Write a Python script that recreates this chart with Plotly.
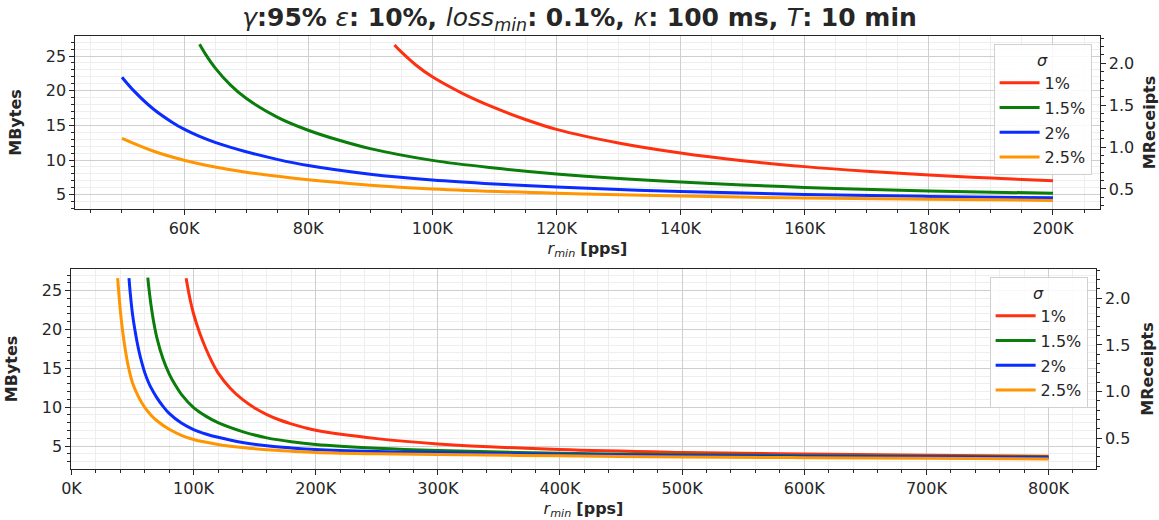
import plotly.graph_objects as go

# ---- data (x in thousands of pps, y in MBytes) ----
sigma_labels = ["1%", "1.5%", "2%", "2.5%"]
colors = ["#ff3010", "#0a7d0a", "#0a2cff", "#ff9500"]

red_x = [93.9, 95, 97.5, 100, 105, 110, 115, 120, 130, 140, 150, 160, 170, 180, 190, 200,
         250, 300, 400, 500, 600, 700, 800]
red_y = [26.6, 25.6, 23.6, 22.0, 19.55, 17.55, 15.85, 14.42, 12.45, 11.0, 9.9, 9.05, 8.38, 7.85, 7.4, 7.02,
         5.95, 5.27, 4.54, 4.18, 3.97, 3.8, 3.67]

green_x = [62.5, 63.5, 65, 67.5, 70, 75, 80, 85, 90, 100, 110, 120, 140, 160, 180, 200,
           250, 300, 400, 500, 600, 700, 800]
green_y = [26.69, 25.2, 23.3, 20.8, 18.9, 16.2, 14.3, 12.85, 11.65, 9.95, 8.85, 8.0, 6.85, 6.05, 5.55, 5.2,
           4.72, 4.42, 4.07, 3.88, 3.76, 3.66, 3.58]

blue_x = [47.1, 48, 49, 50, 52, 55, 58, 60, 62.5, 65, 70, 75, 80, 90, 100, 110, 120, 140, 160, 180, 200,
          250, 300, 400, 500, 600, 700, 800]
blue_y = [26.6, 24.9, 23.3, 21.95, 19.9, 17.4, 15.5, 14.45, 13.4, 12.55, 11.2, 10.1, 9.2, 7.95, 7.12,
          6.55, 6.12, 5.45, 5.02, 4.75, 4.55, 4.3, 4.15, 3.9, 3.76, 3.65, 3.57, 3.5]

orange_x = [37.8, 39, 40, 41, 42, 44, 47, 50, 55, 60, 65, 70, 80, 90, 100, 120, 140, 160, 180, 200,
            250, 300, 400, 500, 600, 700, 800]
orange_y = [26.6, 24.22, 22.47, 20.97, 19.67, 17.47, 14.92, 13.12, 11.3, 9.97, 9.0, 8.25, 7.15, 6.38,
            5.83, 5.2, 4.8, 4.52, 4.33, 4.18, 4.0, 3.9, 3.73, 3.6, 3.5, 3.41, 3.34]

series_x = [red_x, green_x, blue_x, orange_x]
series_y = [red_y, green_y, blue_y, orange_y]

top_xmin, top_xmax = 50, 200
top_ticks = [60, 80, 100, 120, 140, 160, 180, 200]
bot_ticks = [0, 100, 200, 300, 400, 500, 600, 700, 800]
left_ticks = [5, 10, 15, 20, 25]
right_ticks = [0.5, 1.0, 1.5, 2.0]

W, H = 1159, 520
INK = "#262626"
GRID = "#cfcfcf"
MINOR = "#eeeeee"
FONT = "DejaVu Sans"

fig = go.Figure()

for i in range(4):
    xs = [x for x in series_x[i] if top_xmin <= x <= top_xmax]
    ys = [y for x, y in zip(series_x[i], series_y[i]) if top_xmin <= x <= top_xmax]
    fig.add_trace(go.Scatter(x=xs, y=ys, mode="lines", name=sigma_labels[i],
                             line=dict(color=colors[i], width=3, shape="spline", smoothing=1.0),
                             xaxis="x", yaxis="y", legend="legend", legendgroup="t%d" % i))
    fig.add_trace(go.Scatter(x=series_x[i], y=series_y[i], mode="lines", name=sigma_labels[i],
                             line=dict(color=colors[i], width=3, shape="spline", smoothing=1.0),
                             xaxis="x2", yaxis="y3", legend="legend2", legendgroup="b%d" % i))

fig.add_trace(go.Scatter(x=[None], y=[None], xaxis="x", yaxis="y2", showlegend=False, hoverinfo="skip"))
fig.add_trace(go.Scatter(x=[None], y=[None], xaxis="x2", yaxis="y4", showlegend=False, hoverinfo="skip"))


def px_dom(a, b, total):
    return [a / total, b / total]


tickfont = dict(family=FONT, size=16, color=INK)
title_font = dict(family=FONT, size=16, color=INK)
xtitle = "<i>r<sub>min</sub></i> <b>[pps]</b>"


def xaxis(dom, anchor, rng, ticks, minor_dtick):
    return dict(domain=dom, anchor=anchor, range=rng, tickvals=ticks,
                ticktext=["%dK" % t for t in ticks],
                showline=True, mirror=True, linecolor=INK, linewidth=1.25,
                ticks="outside", ticklen=5, tickwidth=1.25, tickcolor=INK,
                showgrid=True, gridcolor=GRID, gridwidth=1, zeroline=False,
                tickfont=tickfont,
                title=dict(text=xtitle, font=title_font, standoff=5),
                minor=dict(dtick=minor_dtick, ticks="outside", ticklen=3, tickwidth=1,
                           tickcolor=INK, showgrid=True, gridcolor=MINOR, gridwidth=0.8))


def yleft(dom, anchor, rng):
    return dict(domain=dom, anchor=anchor, range=rng, tickvals=left_ticks,
                showline=True, mirror=True, linecolor=INK, linewidth=1.25,
                ticks="outside", ticklen=5, tickwidth=1.25, tickcolor=INK,
                showgrid=True, gridcolor=GRID, gridwidth=1, zeroline=False,
                tickfont=tickfont,
                title=dict(text="<b>MBytes</b>", font=title_font, standoff=20),
                minor=dict(dtick=1, ticks="outside", ticklen=3, tickwidth=1,
                           tickcolor=INK, showgrid=True, gridcolor=MINOR, gridwidth=0.8))


def yright(overlay, anchor, rng):
    return dict(overlaying=overlay, anchor=anchor, side="right", range=rng,
                tickvals=right_ticks, tickformat=".1f",
                showline=True, linecolor=INK, linewidth=1.25,
                ticks="outside", ticklen=5, tickwidth=1.25, tickcolor=INK,
                showgrid=False, zeroline=False, tickfont=tickfont,
                title=dict(text="<b>MReceipts</b>", font=title_font, standoff=12),
                minor=dict(dtick=0.1, ticks="outside", ticklen=3, tickwidth=1,
                           tickcolor=INK, showgrid=False))


legend_common = dict(bgcolor="rgba(255,255,255,0.85)", bordercolor="#d0d0d0", borderwidth=1,
                     font=dict(family=FONT, size=16, color=INK),
                     title=dict(text="<i>σ</i>", side="top center",
                                font=dict(family=FONT, size=16, color=INK)),
                     xanchor="right", yanchor="top", tracegroupgap=1, itemwidth=40)

fig.update_layout(
    width=W, height=H,
    margin=dict(l=0, r=0, t=0, b=0),
    paper_bgcolor="white", plot_bgcolor="white",
    font=dict(family=FONT, color=INK),
    title=dict(text="<i>γ</i><b>:95% </b><i>ε</i><b>: 10%, </b><i>loss<sub>min</sub></i>"
                    "<b>: 0.1%, </b><i>κ</i><b>: 100 ms, </b><i>T</i><b>: 10 min</b>",
               x=0.5, xanchor="center", y=1 - 17 / H, yanchor="middle",
               font=dict(family=FONT, size=25, color=INK)),
    xaxis=xaxis(px_dom(66, 1099, W), "y", [42.5, 207.5], top_ticks, 5),
    yaxis=yleft([(H - 209) / H, (H - 36) / H], "x", [2.94, 27.89]),
    yaxis2=yright("y", "x", [0.261, 2.326]),
    xaxis2=xaxis(px_dom(62, 1095, W), "y3", [0, 838.5], bot_ticks, 20),
    yaxis3=yleft([(H - 469) / H, (H - 269) / H], "x2", [2.04, 27.79]),
    yaxis4=yright("y3", "x2", [0.171, 2.314]),
    legend=dict(legend_common, x=1091 / W, y=(H - 44) / H),
    legend2=dict(legend_common, x=1087 / W, y=(H - 277) / H),
    showlegend=True,
)

fig.write_html("out.html")
